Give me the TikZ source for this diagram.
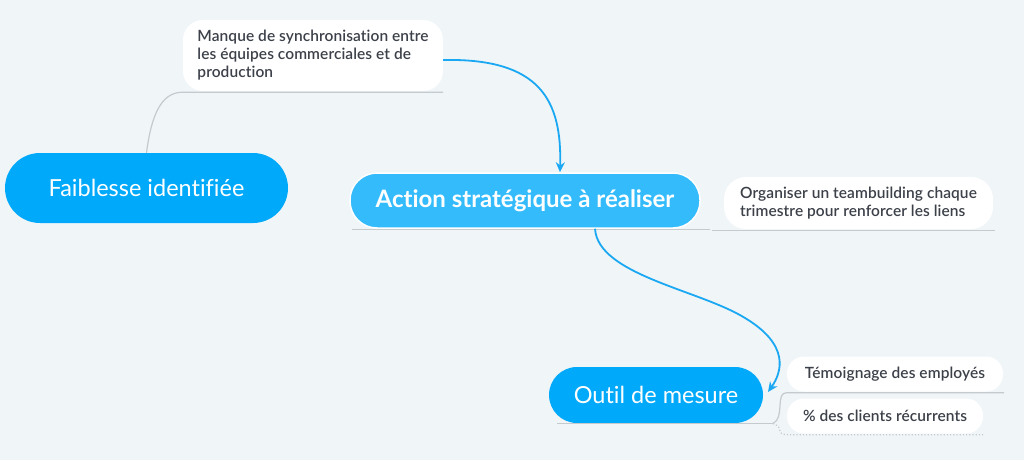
\documentclass[tikz,border=0pt]{standalone}
\usepackage{fontspec}
\setmainfont{Lato}[Ligatures=NoCommon]
\IfFontExistsTF{Lato Semibold}{\newfontfamily\semi{Lato Semibold}[Ligatures=NoCommon,LetterSpace=0.5]}{\newfontfamily\semi{Lato Bold}[Ligatures=NoCommon,LetterSpace=0.5]}
\usetikzlibrary{arrows.meta}
\definecolor{bg}{HTML}{F0F5F8}
\definecolor{mainblue}{HTML}{00A9FA}
\definecolor{actblue}{HTML}{33BBFC}
\definecolor{arrowblue}{HTML}{1AA8F2}
\definecolor{txt}{HTML}{3C4049}
\definecolor{grayline}{HTML}{C5CACF}
\tikzset{
  topic/.style={fill=mainblue, text=white, rounded corners=28pt, inner sep=0pt, font=\fontsize{23.5}{26}\selectfont},
  subtopic/.style={fill=white, text=txt, inner sep=0pt, align=left, font=\semi\fontsize{15.5}{18}\selectfont},
  uline/.style={draw=grayline, line width=1.2pt},
  link/.style={draw=arrowblue, line width=1.8pt, -{Stealth[length=10pt,width=9pt]}},
}
\begin{document}
\begin{tikzpicture}[x=1pt,y=-1pt]
\useasboundingbox (0,0) rectangle (1024,460);
\fill[bg] (0,0) rectangle (1024,460);
% main topics
\node[topic, rounded corners=35pt, minimum width=283pt, minimum height=70pt] (fa) at (146.5,188) {Faiblesse identifiée};
\node[topic, fill=actblue, draw=white, line width=1.5pt, rounded corners=27pt, minimum width=350pt, minimum height=55pt, font=\bfseries\fontsize{24}{26}\selectfont] (ac) at (525,200.5) {Action stratégique à réaliser};
\node[topic, minimum width=214pt, minimum height=56pt] (ou) at (656,395) {Outil de mesure};
% subtopics
\node[subtopic, rounded corners=20pt, minimum width=260pt, minimum height=71pt] (mq) at (313,55.5) {Manque de synchronisation entre\\les équipes commerciales et de\\production};
\node[subtopic, rounded corners=22pt, minimum width=269pt, minimum height=52pt] (or) at (858.5,203) {Organiser un teambuilding chaque\\trimestre pour renforcer les liens};
\node[subtopic, rounded corners=17pt, minimum width=216pt, minimum height=35pt] (te) at (895,374) {Témoignage des employés};
\node[subtopic, rounded corners=17pt, minimum width=196pt, minimum height=35pt] (pc) at (885,416) {\% des clients récurrents};
% underlines
\draw[uline] (fa.north) .. controls (151,118) and (160,92) .. ([yshift=-1pt]mq.south west) -- ([yshift=-1pt]mq.south east);
\coordinate (acl) at (352,229.5);
\coordinate (acr) at (710,229.5);
\draw[uline] (acl) -- (acr);
\draw[uline] ([xshift=-12pt,yshift=-1pt]or.south west) -- ([xshift=2pt,yshift=-1pt]or.south east);
\coordinate (oul) at (557,423.5);
\coordinate (our) at (773,423.5);
\draw[uline] (oul) -- (our);
\draw[uline] (our) .. controls (785,418) and (775,392) .. ([yshift=-1pt]te.south west) -- ([xshift=1pt,yshift=-1pt]te.south east);
\draw[uline, dotted] (our) .. controls (785,428) and (775,434) .. ([yshift=-1pt]pc.south west) -- ([xshift=1pt,yshift=-1pt]pc.south east);
% arrows
\coordinate (a1s) at (443,60);
\coordinate (a2e) at (768,392);
\draw[link] (a1s) .. controls (540,58) and (562,100) .. ([xshift=35pt]ac.north);
\draw[link] ([xshift=70pt]ac.south) .. controls (598,275) and (700,290) .. (745,318) .. controls (790,345) and (782,372) .. (a2e);
\end{tikzpicture}
\end{document}
